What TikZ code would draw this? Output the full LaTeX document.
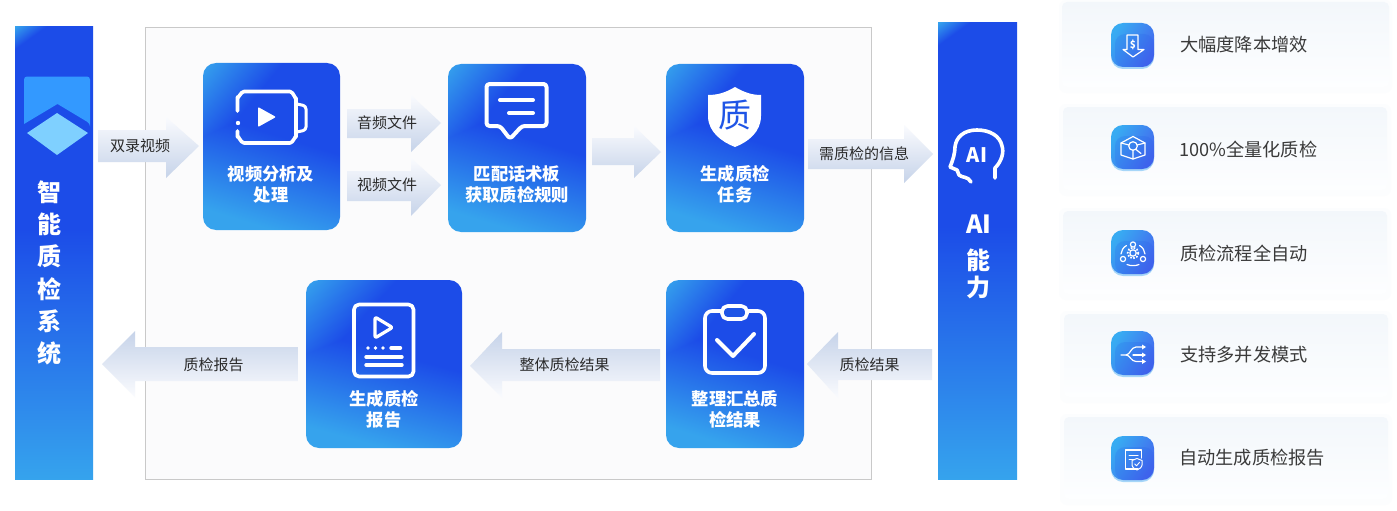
\documentclass[tikz,border=0pt]{standalone}
\usepackage{fontspec}
\setmainfont{Noto Sans CJK SC}
\usetikzlibrary{calc}
\definecolor{panelfill}{HTML}{FBFBFC}
\definecolor{panelline}{HTML}{C9C9C9}
\definecolor{labelink}{HTML}{2A2A2A}
\definecolor{cardink}{HTML}{3A3A3A}
\definecolor{glyphblue}{HTML}{1F55E6}
% TikZ maps the path box on the middle 50bp of the shading: x y in -25..25 -> 0..100
\pgfdeclarefunctionalshading{tileshade}{\pgfpoint{-50bp}{-50bp}}{\pgfpoint{50bp}{50bp}}{}{
 25 add 2 mul exch 25 add 2 mul exch
 2 copy sub 100 add 58 div 1 exch sub
 3 1 roll exch 0.25 mul add 70 exch sub 57 div
 2 copy lt {exch} if pop
 dup 0 lt {pop 0} if dup 1 gt {pop 1} if
 dup .10 mul .11 add exch dup .34 mul .30 add exch .02 mul .91 add
}
\pgfdeclarefunctionalshading{barshade}{\pgfpoint{-50bp}{-50bp}}{\pgfpoint{50bp}{50bp}}{}{
 25 add 2 mul exch 25 add 2 mul exch
 2 copy 100 exch sub 5 div exch 40 div add 1 exch sub
 exch 55 exch sub 55 div
 2 copy lt {exch} if pop
 exch pop
 dup 0 lt {pop 0} if dup 1 gt {pop 1} if
 dup .10 mul .11 add exch dup .34 mul .30 add exch .02 mul .91 add
}
\definecolor{Rtop}{HTML}{FAFBFE}
\definecolor{Rbot}{HTML}{C6D3E9}
\definecolor{CardTop}{HTML}{F3F7FB}
\definecolor{CardBot}{HTML}{FDFEFF}
\definecolor{CardHalo}{HTML}{FCFDFE}
\definecolor{IconA}{HTML}{38ABF2}
\definecolor{IconB}{HTML}{4465EE}
\definecolor{IconStrip}{HTML}{A6D6F8}
\definecolor{IconIn}{HTML}{1F55E6}
\definecolor{LogoA}{HTML}{3399FF}
\definecolor{LogoB}{HTML}{7FD0FF}
\tikzset{
  panelbox/.style={draw=panelline,fill=panelfill,line width=.8pt},
  tilebox/.style={shading=tileshade,rounded corners=13pt},
  rarrow/.style={top color=Rtop,bottom color=Rbot},
  larrow/.style={top color=Rbot,bottom color=Rtop},
  arrowlabel/.style={text=labelink,font=\fontsize{15}{16}\selectfont,inner sep=0pt},
  tilelabel/.style={text=white,font=\bfseries\fontsize{17.3}{21.5}\selectfont,align=center,inner sep=0pt},
  barlabel/.style={text=white,font=\bfseries\fontsize{24}{26}\selectfont,inner sep=0pt},
  cardbox/.style={top color=CardTop,bottom color=CardBot,rounded corners=5pt},
  cardhalo/.style={fill=CardHalo,rounded corners=7pt},
  cardlabel/.style={text=cardink,font=\fontsize{18.2}{20}\selectfont,inner sep=0pt,anchor=west},
  bigicon/.style={draw=white,line width=3.6pt,line cap=round,line join=round},
  smallicon/.style={draw=white,line width=1.2pt,line cap=round,line join=round},
}
% right-pointing arrow: xtail xbase xtip ytail1 ytail2 yhead1 yhead2 ytip
\newcommand{\blockarrow}[9]{%
  \shade[#1] (#2,#5) -- (#3,#5) -- (#3,#7) -- (#4,#9) -- (#3,#8) -- (#3,#6) -- (#2,#6) -- cycle;}
\newcommand{\iconbase}[2]{%
  \fill[IconStrip,rounded corners=12pt] (1111,#2+4) rectangle (1154,#2+46);
  \shade[left color=IconA,right color=IconB,shading angle=58,rounded corners=12pt] (1111,#2) rectangle (1154,#2+44);
  \fill[IconIn,opacity=.16,rounded corners=10pt] (1115,#2+11) rectangle (1154,#2+44);
  \node[inner sep=0pt,minimum size=0pt] (#1) at (1132.5,#2+22) {};}
\begin{document}
\begin{tikzpicture}[x=1pt,y=-1pt]
\useasboundingbox (0,0) rectangle (1397,511);
\fill[white] (0,0) rectangle (1397,511);
% panel
\draw[panelbox] (145,27) rectangle (871,479);
% side bars
\shade[shading=barshade] (15,26.5) rectangle (93,479);
\shade[shading=barshade] (938,22.5) rectangle (1017,479);
% logo
\fill[LogoA,rounded corners=3pt] (24,124) -- (24,76.5) -- (90,76.5) -- (90,124) -- (90,123.5) [sharp corners] -- (57.5,104) -- (24,124) -- cycle;
\fill[LogoB] (27,133) -- (57,113) -- (88,133) -- (57,155) -- cycle;
\node[barlabel] (z1) at (49,192) {智};
\node[barlabel] (z2) at (49,224) {能};
\node[barlabel] (z3) at (49,256) {质};
\node[barlabel] (z4) at (49,289) {检};
\node[barlabel] (z5) at (49,321) {系};
\node[barlabel] (z6) at (49,353) {统};
% AI bar
\draw[white,line width=3.6pt,line cap=round,line join=round]
  (995,178) -- (995,168) .. controls (1002,161) and (1004,152) .. (1002,146)
  .. controls (1000,136) and (990,130) .. (977,130)
  .. controls (964,130) and (956,137) .. (955,147)
  .. controls (955,153) and (953,160) .. (950,167) -- (957,170) -- (959,175)
  .. controls (962,178) and (968,176) .. (971,182);
\node[text=white,font=\bfseries\fontsize{20}{20}\selectfont,inner sep=0pt] (aiglyph) at (977,155) {AI};
\node[barlabel,font=\bfseries\fontsize{25}{26}\selectfont] (ai1) at (979,224) {AI};
\node[barlabel] (ai2) at (978,260) {能};
\node[barlabel] (ai3) at (978,287) {力};
% tiles
\shade[tilebox] (203,63) rectangle (340,230);
\shade[tilebox] (448,64) rectangle (586,232);
\shade[tilebox] (666,64) rectangle (804,232);
\shade[tilebox] (306,280) rectangle (462,448);
\shade[tilebox] (666,280) rectangle (804,448);
\node[tilelabel] (t1) at (271,184.5) {视频分析及\\处理};
\node[tilelabel] (t2) at (517,184.5) {匹配话术板\\获取质检规则};
\node[tilelabel] (t3) at (735,184.5) {生成质检\\任务};
\node[tilelabel] (t4) at (384,409.5) {生成质检\\报告};
\node[tilelabel] (t5) at (735,409.5) {整理汇总质\\检结果};
% icon: video
\draw[bigicon] (237.5,111) -- (237.5,97) to[out=-90,in=180] (244,91.5) -- (290,91.5) to[out=0,in=-90] (296,98) -- (296,137) to[out=90,in=0] (290,143) -- (244,143) to[out=180,in=90] (237.5,137) -- (237.5,131);
\fill[white] (238,123) circle (2.2);
\draw[bigicon,line width=3pt,rounded corners=3pt] (297,104) -- (306,106) -- (306,130) -- (297,132);
\fill[white,rounded corners=1pt] (258,107) -- (276,117) -- (258,127) -- cycle;
% icon: bubble
\draw[bigicon,line width=4pt,rounded corners=3pt] (500,126) -- (486.5,126) -- (486.5,84) -- (546.5,84) -- (546.5,126) -- (522,126) -- (510,139) -- cycle;
\draw[bigicon,line width=4pt] (500,100) -- (533,100) (509,113) -- (533,113);
% icon: shield
\fill[white] (735,87) .. controls (745,93) and (753,95) .. (761,95) -- (761,116) .. controls (761,132) and (748,142) .. (735,147) .. controls (722,142) and (708,132) .. (708,116) -- (708,95) .. controls (717,95) and (725,93) .. (735,87) -- cycle;
\node[text=glyphblue,font=\fontsize{33}{33}\selectfont,inner sep=0pt] (shieldglyph) at (734.5,115) {质};
% icon: document
\draw[bigicon,rounded corners=5pt] (354,304.5) rectangle (413.5,376.5);
\draw[bigicon,line width=3.2pt,rounded corners=2pt] (375,317) -- (392.5,327.5) -- (375,338) -- cycle;
\fill[white] (368,348) circle (1.9) (375.5,348) circle (1.9) (383,348) circle (1.9);
\draw[bigicon,line width=3.4pt] (391,348) -- (400.5,348) (366,357) -- (402,357) (366,365) -- (402,365);
% icon: clipboard
\draw[bigicon,rounded corners=7pt] (722,311) -- (705,311) -- (705,373) -- (765,373) -- (765,311) -- (747,311);
\draw[bigicon,fill=glyphblue,rounded corners=5.5pt] (722,306) rectangle (747,319);
\draw[bigicon,line width=4pt] (717,340) -- (733,356) -- (754,334);
% arrows
\blockarrow{rarrow}{98}{166}{199}{130}{162}{117}{178}{146}
\blockarrow{rarrow}{347}{411}{441}{109}{138}{95}{152}{123}
\blockarrow{rarrow}{347}{411}{441}{171}{201}{158}{216}{185}
\blockarrow{rarrow}{592}{634}{661}{138}{165}{126}{178}{152}
\blockarrow{rarrow}{808}{904}{933}{139}{169}{125}{183}{154}
\blockarrow{larrow}{932}{838}{807}{349}{380}{332}{398}{364}
\blockarrow{larrow}{660}{502}{470}{349}{381}{332}{398}{366}
\blockarrow{larrow}{298}{135}{102}{347}{381}{331}{397}{364}
\node[arrowlabel] (a1) at (140,146) {双录视频};
\node[arrowlabel] (a2) at (387,123) {音频文件};
\node[arrowlabel] (a3) at (387,185) {视频文件};
\node[arrowlabel] (a4) at (864,154) {需质检的信息};
\node[arrowlabel] (a5) at (869.5,364.5) {质检结果};
\node[arrowlabel] (a6) at (564.5,365) {整体质检结果};
\node[arrowlabel] (a7) at (213.5,364.5) {质检报告};
% cards
\fill[cardhalo] (1059,0) rectangle (1392,93);
\fill[cardhalo] (1059,104) rectangle (1391,196);
\fill[cardhalo] (1059,208) rectangle (1391,300);
\fill[cardhalo] (1060,311) rectangle (1392,403);
\fill[cardhalo] (1060,414) rectangle (1392,505);
\shade[cardbox] (1062,2) rectangle (1389,87);
\shade[cardbox] (1063,107) rectangle (1387,190);
\shade[cardbox] (1063,211) rectangle (1387,294);
\shade[cardbox] (1064,314) rectangle (1388,397);
\shade[cardbox] (1064,417) rectangle (1388,499);
\iconbase{i1}{23}
\iconbase{i2}{125}
\iconbase{i3}{230}
\iconbase{i4}{331}
\iconbase{i5}{436}
\node[cardlabel] (c1) at (1180,45) {大幅度降本增效};
\node[cardlabel] (c2) at (1179,149) {100\%全量化质检};
\node[cardlabel] (c3) at (1180,253) {质检流程全自动};
\node[cardlabel] (c4) at (1180,355) {支持多并发模式};
\node[cardlabel] (c5) at (1179,458) {自动生成质检报告};
% small icon 1
\draw[smallicon] (1127,35) -- (1138,35) -- (1138,49.5) -- (1144,49.5) -- (1133,57) -- (1123,49.5) -- (1127,49.5) -- cycle;
\node[text=white,font=\bfseries\fontsize{10}{10}\selectfont,inner sep=0pt] (dollar) at (1133,44.5) {\$};
% small icon 2
\draw[smallicon] (1133,136.5) -- (1145,143) -- (1145,155) -- (1133,159) -- (1121,155) -- (1121,143) -- cycle;
\draw[smallicon] (1133,146) circle (4.3);
\draw[smallicon] (1121,143) -- (1129,145) (1145,143) -- (1137,145) (1133,150) -- (1133,159) (1136,149.5) -- (1141,153.5);
% small icon 3
\draw[smallicon] (1133,244.5) circle (2.6) (1123,259) circle (2.6) (1143,259) circle (2.6);
\draw[smallicon] (1133,253) circle (3.2);
\draw[smallicon,dash pattern=on 1.6pt off 1.6pt,line cap=butt,line width=1.8pt] (1133,253) circle (5.4);
\draw[smallicon] (1126.5,245.5) .. controls (1123,247.5) and (1121.5,250.5) .. (1121,254);
\draw[smallicon] (1139.5,245.5) .. controls (1143,247.5) and (1144.5,250.5) .. (1145,254);
\draw[smallicon] (1127,264.5) .. controls (1130,266) and (1136,266) .. (1139,264.5);
% small icon 4
\draw[smallicon] (1121,355) -- (1126,355) .. controls (1130,355) and (1131,347) .. (1136,347) -- (1144,347);
\draw[smallicon] (1126,355) .. controls (1130,355) and (1131,361.5) .. (1136,361.5) -- (1144,361.5);
\draw[smallicon] (1133,355) -- (1144,355);
\fill[white] (1146,347) -- (1142,344.5) -- (1142,349.5) -- cycle (1146,355) -- (1142,352.5) -- (1142,357.5) -- cycle (1146,361.5) -- (1142,359) -- (1142,364) -- cycle;
% small icon 5
\draw[smallicon] (1138,469) -- (1125.5,469) -- (1125.5,450) -- (1141.5,450) -- (1141.5,458);
\draw[smallicon,line width=1pt] (1129,455) -- (1138,455) (1129,459.5) -- (1134,459.5);
\draw[smallicon,line width=1pt] (1137,458.5) -- (1142,460.5) -- (1142,465) .. controls (1142,467) and (1139,469.5) .. (1137,470) .. controls (1135,469.5) and (1132,467) .. (1132,465) -- (1132,460.5) -- cycle;
\draw[smallicon,line width=.9pt] (1134.8,464) -- (1136.6,465.8) -- (1139.5,462.3);
\end{tikzpicture}
\end{document}
